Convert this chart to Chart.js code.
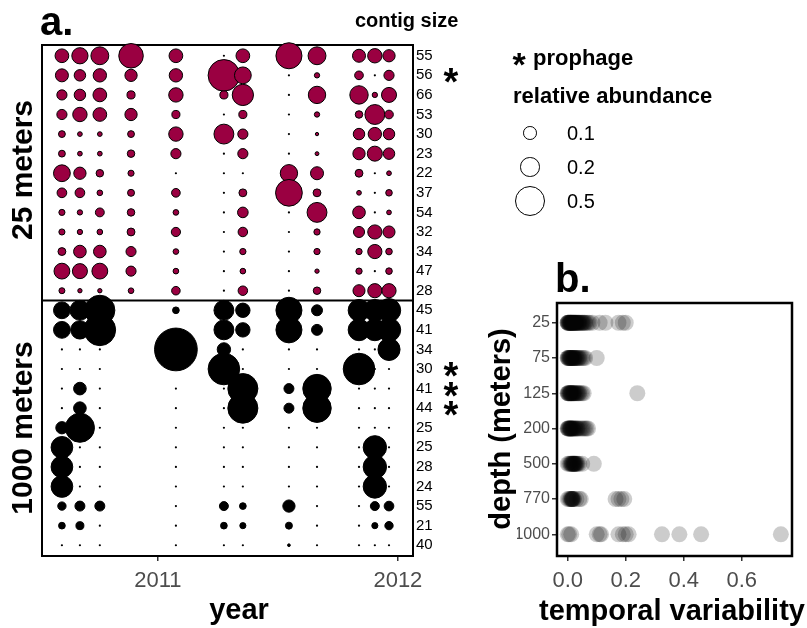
<!DOCTYPE html>
<html>
<head>
<meta charset="utf-8">
<script src="https://cdn.jsdelivr.net/npm/chart.js@4.4.1/dist/chart.umd.min.js"></script>
<style>
  body { margin: 0; background: #fff; }
  #wrap { position: relative; width: 807px; height: 628px; overflow: hidden; font-family: "Liberation Sans", Arial, sans-serif; }
  canvas { position: absolute; left: 0; top: 0; }
  .t { position: absolute; line-height: 1; white-space: nowrap; color: #000; }
  .ring { position: absolute; border: 1px solid #000; border-radius: 50%; background: #fff; box-sizing: border-box; }
</style>
</head>
<body>
<div id="wrap">
  <canvas id="chartA" width="807" height="628"></canvas>
  <canvas id="chartB" width="807" height="628"></canvas>
</div>
<script>
// sampling dates (decimal years)
const dates25 = [2010.600, 2010.675, 2010.758, 2010.888, 2011.075, 2011.275, 2011.354, 2011.546, 2011.663, 2011.838, 2011.904, 2011.963];
const dates1000 = [2010.600, 2010.675, 2010.758, 2011.075, 2011.275, 2011.354, 2011.546, 2011.663, 2011.838, 2011.904, 2011.963];

// contig size labels (kb), top to bottom
const contigs25 = ['55', '56', '66', '53', '30', '23', '22', '37', '54', '32', '34', '47', '28'];
const contigs1000 = ['45', '41', '34', '30', '41', '44', '25', '25', '28', '24', '55', '21', '40'];
const prophageRows = [1, 16, 17, 18];

// relative abundance, one row per contig, one value per date
const abund25 = [
  [0.10, 0.14, 0.17, 0.32, 0.10, 0, 0.10, 0.36, 0.17, 0.09, 0.11, 0.08],
  [0.09, 0.07, 0.095, 0.08, 0.095, 0.53, 0.15, 0, 0.015, 0.04, 0, 0.055],
  [0.055, 0.07, 0.10, 0.035, 0.11, 0.035, 0.24, 0, 0.16, 0.18, 0.015, 0.12],
  [0.055, 0.11, 0.10, 0.08, 0.035, 0, 0.035, 0, 0.015, 0.03, 0.21, 0.04],
  [0.025, 0.012, 0.012, 0.025, 0.11, 0.21, 0.055, 0, 0.006, 0.07, 0.095, 0.07],
  [0.025, 0.012, 0.012, 0.03, 0.055, 0, 0.055, 0, 0.008, 0.08, 0.12, 0.07],
  [0.15, 0.08, 0.03, 0.02, 0, 0, 0, 0.16, 0.09, 0.033, 0, 0.012],
  [0.05, 0.05, 0.017, 0.026, 0.04, 0, 0.033, 0.38, 0.033, 0.012, 0, 0.023],
  [0.02, 0.015, 0.042, 0.03, 0.017, 0, 0.06, 0, 0.21, 0.085, 0, 0.012],
  [0.02, 0.015, 0.017, 0.033, 0.045, 0, 0.048, 0, 0.021, 0.065, 0.107, 0.077],
  [0.033, 0.085, 0.085, 0.054, 0.017, 0, 0.021, 0, 0.021, 0.021, 0.107, 0.023],
  [0.133, 0.12, 0.133, 0.054, 0.017, 0, 0.017, 0, 0.01, 0.021, 0, 0.023],
  [0.019, 0.01, 0.01, 0.017, 0.039, 0, 0.048, 0, 0.03, 0.077, 0.107, 0.107]
];
const abund1000 = [
  [0.15, 0.21, 0.48, 0.024, 0.21, 0.11, 0.36, 0.064, 0.25, 0.25, 0.29],
  [0.15, 0.18, 0.53, 0, 0.21, 0.11, 0.36, 0.064, 0.25, 0.25, 0.29],
  [0, 0, 0, 0.97, 0.095, 0, 0, 0, 0, 0, 0.26],
  [0, 0, 0, 0, 0.53, 0, 0, 0, 0.53, 0, 0],
  [0, 0.085, 0, 0, 0, 0.48, 0.053, 0.43, 0, 0, 0],
  [0, 0.085, 0, 0, 0, 0.48, 0.053, 0.43, 0, 0, 0],
  [0.08, 0.45, 0, 0, 0, 0, 0, 0, 0, 0, 0],
  [0.25, 0, 0, 0, 0, 0, 0, 0, 0, 0.29, 0],
  [0.25, 0, 0, 0, 0, 0, 0, 0, 0, 0.29, 0],
  [0.25, 0, 0, 0, 0, 0, 0, 0, 0, 0.29, 0],
  [0.037, 0.053, 0.053, 0, 0.043, 0.024, 0.08, 0, 0, 0.043, 0.05],
  [0.024, 0.034, 0, 0, 0.024, 0.02, 0.026, 0, 0, 0.02, 0.037],
  [0, 0, 0, 0, 0, 0, 0.004, 0, 0, 0, 0]
];
const legendAbund = [0.1, 0.2, 0.5];

// panel b: temporal variability per contig, by depth
const depthLabels = ['25', '75', '125', '200', '500', '770', '1000'];
const var25 = [0, 0, 0, 0.002, 0.003, 0.004, 0.005, 0.006, 0.007, 0.008, 0.009, 0.01, 0.01, 0.011, 0.012, 0.013, 0.014, 0.015, 0.016, 0.017, 0.018, 0.02, 0.02, 0.021, 0.022, 0.024, 0.025, 0.026, 0.027, 0.029, 0.03, 0.032, 0.033, 0.035, 0.037, 0.038, 0.04, 0.042, 0.045, 0.048, 0.05, 0.052, 0.055, 0.058, 0.06, 0.065, 0.07, 0.075, 0.085, 0.11, 0.13, 0.175, 0.19, 0.2];
const var75 = [0, 0, 0.002, 0.003, 0.005, 0.006, 0.007, 0.008, 0.01, 0.011, 0.012, 0.014, 0.015, 0.016, 0.018, 0.02, 0.021, 0.022, 0.024, 0.025, 0.028, 0.03, 0.032, 0.035, 0.038, 0.04, 0.045, 0.05, 0.055, 0.06, 0.1];
const var125 = [0, 0, 0.002, 0.003, 0.005, 0.006, 0.008, 0.009, 0.01, 0.011, 0.012, 0.014, 0.015, 0.016, 0.018, 0.02, 0.021, 0.022, 0.025, 0.027, 0.03, 0.033, 0.035, 0.038, 0.04, 0.045, 0.05, 0.055, 0.24];
const var200 = [0, 0, 0.002, 0.003, 0.005, 0.006, 0.008, 0.009, 0.01, 0.011, 0.012, 0.014, 0.015, 0.017, 0.018, 0.02, 0.022, 0.025, 0.027, 0.03, 0.033, 0.035, 0.04, 0.045, 0.05, 0.055, 0.06, 0.065, 0.07];
const var500 = [0, 0.004, 0.008, 0.01, 0.012, 0.014, 0.015, 0.016, 0.018, 0.02, 0.02, 0.021, 0.022, 0.024, 0.025, 0.026, 0.028, 0.03, 0.032, 0.035, 0.04, 0.05, 0.09];
const var770 = [0, 0.004, 0.008, 0.01, 0.012, 0.014, 0.015, 0.015, 0.016, 0.018, 0.02, 0.022, 0.03, 0.04, 0.045, 0.165, 0.175, 0.185, 0.195];
const var1000 = [0, 0.005, 0.012, 0.1, 0.11, 0.115, 0.175, 0.19, 0.2, 0.21, 0.325, 0.385, 0.46, 0.735];

const CRIMSON = '#9a0041';
const FONT = '"Liberation Sans", Arial, sans-serif';
const sizeK = 21.7; // px radius for abundance 1 (area scale)
const radius = v => v > 0 ? sizeK * Math.sqrt(v) : 1.1;

const wrap = document.getElementById('wrap');

// bubble points
const pts25 = [];
abund25.forEach((row, i) => row.forEach((v, j) => pts25.push({ x: dates25[j], y: i, r: radius(v), v })));
const pts1000 = [];
abund1000.forEach((row, i) => row.forEach((v, j) => pts1000.push({ x: dates1000[j], y: i + contigs25.length, r: radius(v), v })));
const allContigs = contigs25.concat(contigs1000);

const frame = {
  id: 'frame',
  beforeDatasetsDraw(chart, args, opts) {
    const { ctx, chartArea: a } = chart;
    ctx.save();
    ctx.lineWidth = opts.width;
    ctx.strokeStyle = '#000';
    ctx.strokeRect(a.left, a.top, a.right - a.left, a.bottom - a.top);
    if (opts.split != null) {
      const y = chart.scales.y.getPixelForValue(opts.split);
      ctx.beginPath();
      ctx.moveTo(a.left, y);
      ctx.lineTo(a.right, y);
      ctx.stroke();
    }
    ctx.restore();
  }
};

new Chart(document.getElementById('chartA'), {
  type: 'bubble',
  data: {
    datasets: [
      {
        data: pts25,
        backgroundColor: c => c.raw && c.raw.v === 0 ? '#000' : CRIMSON,
        borderColor: '#000',
        borderWidth: c => c.raw && c.raw.v === 0 ? 0 : 1,
        clip: false
      },
      {
        data: pts1000,
        backgroundColor: '#000',
        borderColor: '#000',
        borderWidth: c => c.raw && c.raw.v === 0 ? 0 : 1,
        clip: false
      }
    ]
  },
  options: {
    responsive: false,
    animation: false,
    events: [],
    layout: { padding: { left: 42, top: 45, right: 354, bottom: 32 } },
    plugins: { legend: { display: false }, tooltip: { enabled: false }, frame: { width: 2, split: 12.5 } },
    scales: {
      x: {
        type: 'linear',
        min: 2010.517,
        max: 2012.063,
        afterBuildTicks: s => { s.ticks = [{ value: 2011 }, { value: 2012 }]; },
        afterFit: s => { s.height = 40; },
        ticks: { callback: v => String(v), color: '#4d4d4d', font: { family: FONT, size: 22 }, padding: 7, maxRotation: 0 },
        grid: { drawOnChartArea: false, tickLength: 5, color: '#333', lineWidth: 1.5 },
        border: { display: false }
      },
      y: {
        type: 'linear',
        position: 'right',
        reverse: true,
        min: -0.55,
        max: 25.55,
        afterBuildTicks: s => { s.ticks = allContigs.map((_, i) => ({ value: i })); },
        afterFit: s => { s.width = 40; },
        ticks: { callback: v => allContigs[v], color: '#000', font: { family: FONT, size: 15 }, padding: 3, autoSkip: false },
        grid: { display: false, drawTicks: false },
        border: { display: false }
      }
    }
  },
  plugins: [frame]
});

const depthSeries = [var25, var75, var125, var200, var500, var770, var1000];
const ptsB = [];
depthSeries.forEach((vals, i) => vals.forEach(v => ptsB.push({ x: v, y: i })));

new Chart(document.getElementById('chartB'), {
  type: 'scatter',
  data: {
    datasets: [{
      data: ptsB,
      pointRadius: 8,
      pointBackgroundColor: 'rgba(0,0,0,0.2)',
      pointBorderWidth: 0,
      clip: false
    }]
  },
  options: {
    responsive: false,
    animation: false,
    events: [],
    layout: { padding: { left: 517, top: 303, right: 15, bottom: 32 } },
    plugins: { legend: { display: false }, tooltip: { enabled: false }, frame: { width: 2.5 } },
    scales: {
      x: {
        type: 'linear',
        min: -0.037,
        max: 0.7734,
        afterBuildTicks: s => { s.ticks = [0, 0.2, 0.4, 0.6].map(v => ({ value: v })); },
        afterFit: s => { s.height = 40; },
        ticks: { callback: v => v.toFixed(1), color: '#4d4d4d', font: { family: FONT, size: 22 }, padding: 7, maxRotation: 0 },
        grid: { drawOnChartArea: false, tickLength: 5, color: '#333', lineWidth: 1.5 },
        border: { display: false }
      },
      y: {
        type: 'linear',
        reverse: true,
        min: -0.56,
        max: 6.615,
        afterBuildTicks: s => { s.ticks = depthLabels.map((_, i) => ({ value: i })); },
        afterFit: s => { s.width = 40; },
        ticks: { callback: v => depthLabels[v], color: '#4d4d4d', font: { family: FONT, size: 16 }, padding: 2, autoSkip: false },
        grid: { drawOnChartArea: false, tickLength: 5, color: '#333', lineWidth: 1.5 },
        border: { display: false }
      }
    }
  },
  plugins: [frame]
});

// html text, placed by baseline
function addText(txt, x, base, size, bold, align) {
  const d = document.createElement('div');
  d.className = 't';
  d.textContent = txt;
  d.style.fontSize = size + 'px';
  d.style.fontWeight = bold ? 'bold' : 'normal';
  d.style.top = (base - 0.8465 * size) + 'px';
  d.style.left = x + 'px';
  if (align === 'center') d.style.transform = 'translateX(-50%)';
  wrap.appendChild(d);
  return d;
}
function addRotated(txt, cx, cy, size) {
  const d = document.createElement('div');
  d.className = 't';
  d.textContent = txt;
  d.style.fontSize = size + 'px';
  d.style.fontWeight = 'bold';
  d.style.left = cx + 'px';
  d.style.top = cy + 'px';
  d.style.transform = 'translate(-50%,-50%) rotate(-90deg)';
  wrap.appendChild(d);
}

addText('a.', 40, 35, 40, true);
addText('b.', 555, 292, 40, true);
addText('contig size', 355, 27, 20, true);
addText('*', 519, 56 + 0.575 * 34, 34, true, 'center');
addText('prophage', 533, 66, 22, true);
addText('relative abundance', 513, 104, 22, true);
addRotated('25 meters', 22, 170, 30);
addRotated('1000 meters', 22, 428, 30);
addRotated('depth (meters)', 500, 429, 29);
addText('year', 239, 620, 29, true, 'center');
addText('temporal variability', 672, 621, 29, true, 'center');

// prophage marks next to contig labels
const rowY = i => 56 + 19.6 * i;
prophageRows.forEach(i => addText('*', 451, rowY(i) + 0.575 * 38 - 2, 38, true, 'center'));

// size legend
const legendY = [133, 167, 201];
legendAbund.forEach((v, i) => {
  const r = sizeK * Math.sqrt(v);
  const c = document.createElement('div');
  c.className = 'ring';
  c.style.width = c.style.height = (2 * r) + 'px';
  c.style.left = (530 - r) + 'px';
  c.style.top = (legendY[i] - r) + 'px';
  wrap.appendChild(c);
  addText(v.toFixed(1), 567, legendY[i] + 7, 20, false);
});
</script>
</body>
</html>
